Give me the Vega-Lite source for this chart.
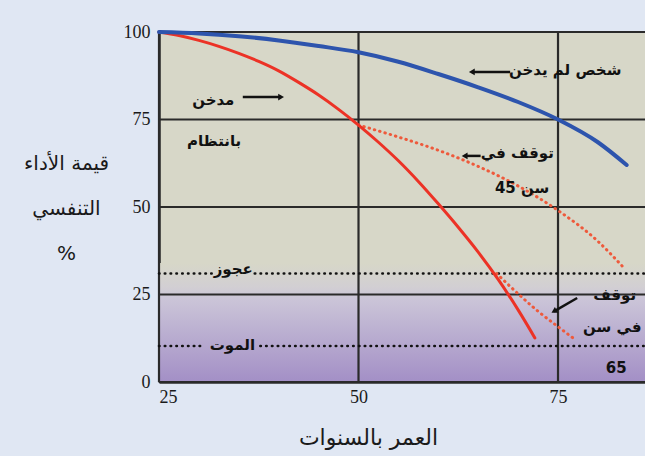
{
  "$schema": "https://vega.github.io/schema/vega-lite/v6.json",
  "width": 486,
  "height": 350,
  "autosize": {"type": "none"},
  "padding": {"left": 159, "top": 32, "right": 0, "bottom": 74},
  "background": "#e0e7f3",
  "view": {"fill": "#d7d7c8", "stroke": null},
  "config": {"font": "Liberation Serif"},
  "datasets": {
    "band": [{"x": 25, "x2": 85.9, "y": 0, "y2": 34}],
    "vgrid": [{"x": 25}, {"x": 50}, {"x": 75}],
    "hgrid": [{"y": 0}, {"y": 25}, {"y": 50}, {"y": 75}, {"y": 100}],
    "levels": [
      {"x": 25, "x2": 31.6, "y": 31},
      {"x": 37.0, "x2": 85.9, "y": 31},
      {"x": 25, "x2": 30.8, "y": 10.3},
      {"x": 37.7, "x2": 85.9, "y": 10.3}
    ],
    "curves": [
      {"series": "nonsmoker", "age": 25, "value": 100},
      {"series": "nonsmoker", "age": 30, "value": 99.6},
      {"series": "nonsmoker", "age": 35, "value": 98.8},
      {"series": "nonsmoker", "age": 40, "value": 97.6},
      {"series": "nonsmoker", "age": 45, "value": 96},
      {"series": "nonsmoker", "age": 50, "value": 94.2},
      {"series": "nonsmoker", "age": 55, "value": 91.5},
      {"series": "nonsmoker", "age": 60, "value": 88},
      {"series": "nonsmoker", "age": 65, "value": 84.2},
      {"series": "nonsmoker", "age": 70, "value": 80},
      {"series": "nonsmoker", "age": 75, "value": 75},
      {"series": "nonsmoker", "age": 80, "value": 68.5},
      {"series": "nonsmoker", "age": 83.6, "value": 62},
      {"series": "smoker", "age": 25, "value": 100},
      {"series": "smoker", "age": 27.5, "value": 99.0},
      {"series": "smoker", "age": 30, "value": 97.6},
      {"series": "smoker", "age": 32.5, "value": 95.9},
      {"series": "smoker", "age": 35, "value": 93.9},
      {"series": "smoker", "age": 37.5, "value": 91.6},
      {"series": "smoker", "age": 40, "value": 88.9},
      {"series": "smoker", "age": 42.5, "value": 85.6},
      {"series": "smoker", "age": 45, "value": 82},
      {"series": "smoker", "age": 47.5, "value": 77.9},
      {"series": "smoker", "age": 50, "value": 73.4},
      {"series": "smoker", "age": 52.5, "value": 68.5},
      {"series": "smoker", "age": 55, "value": 63.2},
      {"series": "smoker", "age": 57.5, "value": 57.3},
      {"series": "smoker", "age": 60, "value": 50.9},
      {"series": "smoker", "age": 62.5, "value": 44.2},
      {"series": "smoker", "age": 65, "value": 37.1},
      {"series": "smoker", "age": 67.5, "value": 29.3},
      {"series": "smoker", "age": 70, "value": 20.6},
      {"series": "smoker", "age": 72.1, "value": 12.6},
      {"series": "quit45", "age": 50, "value": 73.4},
      {"series": "quit45", "age": 55, "value": 70},
      {"series": "quit45", "age": 60, "value": 66.2},
      {"series": "quit45", "age": 65, "value": 61.6},
      {"series": "quit45", "age": 70, "value": 56},
      {"series": "quit45", "age": 75, "value": 49},
      {"series": "quit45", "age": 80, "value": 40.2},
      {"series": "quit45", "age": 83.1, "value": 33},
      {"series": "quit65", "age": 67.3, "value": 31},
      {"series": "quit65", "age": 70, "value": 25.2},
      {"series": "quit65", "age": 72.5, "value": 20.2},
      {"series": "quit65", "age": 75, "value": 15.8},
      {"series": "quit65", "age": 77.1, "value": 12.2}
    ],
    "arrows": [
      {"id": "smoker", "x": 35.5, "y": 81.4, "x2": 40.3, "y2": 81.4},
      {"id": "nonsmoker", "x": 69, "y": 88.6, "x2": 64.2, "y2": 88.6},
      {"id": "quit45", "x": 65.3, "y": 64.6, "x2": 63.3, "y2": 64.6},
      {"id": "quit65", "x": 77.4, "y": 24, "x2": 74.5, "y2": 20.2}
    ],
    "labels": [
      {"x": 31.8, "y": 80.5, "text": "مدخن"},
      {"x": 31.9, "y": 69, "text": "بانتظام"},
      {"x": 75.9, "y": 89.1, "text": "شخص لم يدخن"},
      {"x": 69.9, "y": 65.4, "text": "توقف في"},
      {"x": 70.5, "y": 55.4, "text": "سن 45"},
      {"x": 82.1, "y": 24.9, "text": "توقف"},
      {"x": 81.8, "y": 15.7, "text": "في سن"},
      {"x": 82.3, "y": 4, "text": "65"},
      {"x": 34.3, "y": 32.3, "text": "عجوز"},
      {"x": 34.2, "y": 10.6, "text": "الموت"}
    ]
  },
  "layer": [
    {
      "data": {"name": "band"},
      "mark": {
        "type": "rect",
        "color": {
          "gradient": "linear",
          "x1": 0, "y1": 0, "x2": 0, "y2": 1,
          "stops": [
            {"offset": 0, "color": "#d7d7c8"},
            {"offset": 0.2, "color": "#d2cfd3"},
            {"offset": 0.3, "color": "#cbc5d8"},
            {"offset": 1, "color": "#a38fc6"}
          ]
        }
      },
      "encoding": {
        "x": {
          "field": "x", "type": "quantitative",
          "scale": {"domain": [25, 85.9], "nice": false, "zero": false},
          "axis": {
            "values": [25, 50, 75],
            "grid": false, "ticks": false,
            "domain": true, "domainColor": "#2a2a2a", "domainWidth": 2.5,
            "labelFont": "Liberation Serif", "labelFontSize": 18, "labelColor": "#1a1a1a",
            "labelPadding": 6,
            "title": "العمر بالسنوات",
            "titleFont": "DejaVu Sans", "titleFontSize": 22, "titleFontWeight": "normal",
            "titleColor": "#1a1a1a",
            "titleX": 209, "titleY": 55, "titleBaseline": "middle", "titleAlign": "center"
          }
        },
        "x2": {"field": "x2"},
        "y": {
          "field": "y", "type": "quantitative",
          "scale": {"domain": [0, 100], "nice": false},
          "axis": {
            "values": [0, 25, 50, 75, 100],
            "grid": false, "ticks": false,
            "domain": true, "domainColor": "#2a2a2a", "domainWidth": 2.5,
            "labelFont": "Liberation Serif", "labelFontSize": 18, "labelColor": "#1a1a1a",
            "labelPadding": 9,
            "title": ["قيمة الأداء", "التنفسي", "%"],
            "titleFont": "DejaVu Sans", "titleFontSize": 20, "titleFontWeight": "normal",
            "titleColor": "#1a1a1a", "titleAngle": 0, "titleLineHeight": 45,
            "titleX": -93, "titleY": 131, "titleBaseline": "middle", "titleAlign": "center"
          }
        },
        "y2": {"field": "y2"}
      }
    },
    {
      "data": {"name": "vgrid"},
      "mark": {"type": "rule", "color": "#2a2a2a", "strokeWidth": 2.2},
      "encoding": {"x": {"field": "x", "type": "quantitative"}}
    },
    {
      "data": {"name": "hgrid"},
      "mark": {"type": "rule", "color": "#2a2a2a", "strokeWidth": 2.2},
      "encoding": {"y": {"field": "y", "type": "quantitative"}}
    },
    {
      "data": {"name": "levels"},
      "mark": {"type": "rule", "color": "#111111", "strokeWidth": 2.6, "strokeDash": [0.5, 5.3], "strokeCap": "round"},
      "encoding": {
        "x": {"field": "x", "type": "quantitative"},
        "x2": {"field": "x2"},
        "y": {"field": "y", "type": "quantitative"}
      }
    },
    {
      "data": {"name": "curves"},
      "transform": [{"filter": "datum.series === 'quit45' || datum.series === 'quit65'"}],
      "mark": {"type": "line", "color": "#ee5a3c", "strokeWidth": 3, "strokeDash": [0.5, 5], "strokeCap": "round", "interpolate": "monotone"},
      "encoding": {
        "x": {"field": "age", "type": "quantitative"},
        "y": {"field": "value", "type": "quantitative"},
        "detail": {"field": "series"}
      }
    },
    {
      "data": {"name": "curves"},
      "transform": [{"filter": "datum.series === 'smoker'"}],
      "mark": {"type": "line", "color": "#ec3226", "strokeWidth": 3, "interpolate": "monotone", "strokeCap": "round"},
      "encoding": {
        "x": {"field": "age", "type": "quantitative"},
        "y": {"field": "value", "type": "quantitative"}
      }
    },
    {
      "data": {"name": "curves"},
      "transform": [{"filter": "datum.series === 'nonsmoker'"}],
      "mark": {"type": "line", "color": "#2d54ad", "strokeWidth": 4, "interpolate": "monotone", "strokeCap": "round"},
      "encoding": {
        "x": {"field": "age", "type": "quantitative"},
        "y": {"field": "value", "type": "quantitative"}
      }
    },
    {
      "data": {"name": "arrows"},
      "mark": {"type": "rule", "color": "#111111", "strokeWidth": 2.5},
      "encoding": {
        "x": {"field": "x", "type": "quantitative"},
        "x2": {"field": "x2"},
        "y": {"field": "y", "type": "quantitative"},
        "y2": {"field": "y2"}
      }
    },
    {
      "data": {"name": "arrows"},
      "transform": [{"filter": "datum.id === 'smoker'"}],
      "mark": {"type": "point", "shape": "triangle-right", "filled": true, "color": "#111111", "size": 45, "opacity": 1},
      "encoding": {
        "x": {"field": "x2", "type": "quantitative"},
        "y": {"field": "y2", "type": "quantitative"}
      }
    },
    {
      "data": {"name": "arrows"},
      "transform": [{"filter": "datum.id === 'nonsmoker' || datum.id === 'quit45'"}],
      "mark": {"type": "point", "shape": "triangle-left", "filled": true, "color": "#111111", "size": 45, "opacity": 1},
      "encoding": {
        "x": {"field": "x2", "type": "quantitative"},
        "y": {"field": "y2", "type": "quantitative"}
      }
    },
    {
      "data": {"name": "arrows"},
      "transform": [{"filter": "datum.id === 'quit65'"}],
      "mark": {"type": "point", "shape": "triangle-left", "filled": true, "color": "#111111", "size": 45, "opacity": 1, "angle": 330},
      "encoding": {
        "x": {"field": "x2", "type": "quantitative"},
        "y": {"field": "y2", "type": "quantitative"}
      }
    },
    {
      "data": {"name": "labels"},
      "mark": {"type": "text", "font": "DejaVu Sans", "fontSize": 15, "fontWeight": "bold", "color": "#111111", "align": "center", "baseline": "middle"},
      "encoding": {
        "x": {"field": "x", "type": "quantitative"},
        "y": {"field": "y", "type": "quantitative"},
        "text": {"field": "text"}
      }
    }
  ]
}
